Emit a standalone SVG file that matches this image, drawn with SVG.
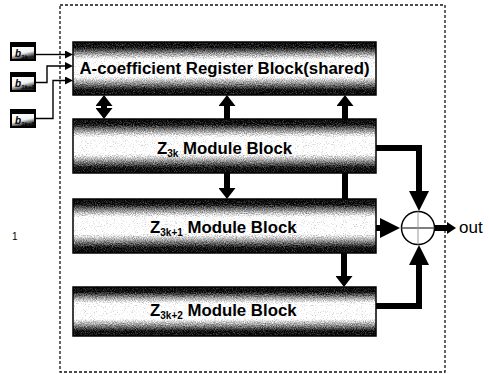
<svg xmlns="http://www.w3.org/2000/svg" width="489" height="374" viewBox="0 0 489 374">
  <style>
    .frame { fill: none; stroke: #111; stroke-width: 1.3; stroke-dasharray: 3 2; }
    .blk { fill: url(#band); filter: url(#grain); }
    .edge { fill: none; stroke: #000; stroke-width: 1.5; }
    .lbl { font-family: "Liberation Sans", Arial, sans-serif; font-weight: bold; fill: #000; }
    .sub { font-size: 10px; fill: #000; }
    .thick { fill: none; stroke: #000; stroke-width: 6; stroke-linejoin: miter; }
    .thin { fill: none; stroke: #000; stroke-width: 1.4; }
    .inbox { fill: #000; }
    .inwin { fill: url(#inband); }
    .bsym { font-family: "Liberation Sans", Arial, sans-serif; font-style: italic; font-weight: bold; font-size: 10px; fill: #000; }
    .plain { font-family: "Liberation Sans", Arial, sans-serif; fill: #000; }
  </style>
  <defs>
    <linearGradient id="band" x1="0" y1="0" x2="0" y2="1">
      <stop offset="0" stop-color="#000"/>
      <stop offset="0.1" stop-color="#050505"/>
      <stop offset="0.22" stop-color="#8c8c8c"/>
      <stop offset="0.34" stop-color="#fdfdfd"/>
      <stop offset="0.64" stop-color="#fdfdfd"/>
      <stop offset="0.77" stop-color="#8c8c8c"/>
      <stop offset="0.9" stop-color="#050505"/>
      <stop offset="1" stop-color="#000"/>
    </linearGradient>
    <linearGradient id="inband" x1="0" y1="0" x2="0.4" y2="1">
      <stop offset="0" stop-color="#fff"/>
      <stop offset="0.6" stop-color="#f2f2f2"/>
      <stop offset="1" stop-color="#222"/>
    </linearGradient>
    <!-- speckled print texture for the block bands -->
    <filter id="grain" x="0" y="0" width="100%" height="100%" color-interpolation-filters="sRGB">
      <feTurbulence type="fractalNoise" baseFrequency="0.9" numOctaves="2" seed="7" result="n"/>
      <feColorMatrix in="n" type="matrix" values="1 0 0 0 0  1 0 0 0 0  1 0 0 0 0  0 0 0 0 1" result="g"/>
      <feComposite in="SourceGraphic" in2="g" operator="arithmetic" k1="0" k2="1" k3="0.8" k4="-0.34" result="mix"/>
      <feComposite in="mix" in2="SourceGraphic" operator="in"/>
    </filter>
    <marker id="head" markerUnits="userSpaceOnUse" markerWidth="11" markerHeight="17" refX="0" refY="8.5" orient="auto-start-reverse">
      <path d="M0,0 L11,8.5 L0,17 Z" fill="#000"/>
    </marker>
    <marker id="bighead" markerUnits="userSpaceOnUse" markerWidth="20" markerHeight="20" refX="0" refY="10" orient="auto">
      <path d="M0,0 L20,10 L0,20 Z" fill="#000"/>
    </marker>
    <marker id="outhead" markerUnits="userSpaceOnUse" markerWidth="9" markerHeight="12" refX="0" refY="6" orient="auto">
      <path d="M0,0 L9,6 L0,12 Z" fill="#000"/>
    </marker>
    <marker id="inhead" markerUnits="userSpaceOnUse" markerWidth="8" markerHeight="8" refX="0" refY="4" orient="auto">
      <path d="M0,0 L8,4 L0,8 Z" fill="#000"/>
    </marker>
  </defs>

  <rect class="frame" x="60" y="5" width="385" height="367"/>

  <!-- connectors (drawn first so the blocks sit on top of pass-through lines) -->
  <g id="connectors">
    <path class="thick" d="M345,199 L345,106" marker-end="url(#head)"/>
    <path class="thick" d="M104,106 L104,108" marker-start="url(#head)" marker-end="url(#head)"/>
    <path class="thick" d="M227,119 L227,106" marker-end="url(#head)"/>
    <path class="thick" d="M227,173 L227,188" marker-end="url(#head)"/>
    <path class="thick" d="M344,253 L344,276" marker-end="url(#head)"/>
    <path class="thick" d="M376,148 L419,148 L419,191" marker-end="url(#bighead)"/>
    <path class="thick" d="M376,228 L380,228" marker-end="url(#bighead)"/>
    <path class="thick" d="M376,306 L419,306 L419,265" marker-end="url(#bighead)"/>
    <path class="thick" d="M435,228 L447,228" marker-end="url(#outhead)"/>
    <path class="thin" d="M36,54.5 L65,54.5" marker-end="url(#inhead)"/>
    <path class="thin" d="M36,82.5 L47,82.5 L47,66 L65,66" marker-end="url(#inhead)"/>
    <path class="thin" d="M36,118.5 L53,118.5 L53,80.5 L65,80.5" marker-end="url(#inhead)"/>
  </g>

  <g id="in-b0">
    <rect class="inbox" x="10" y="42" width="26" height="19"/>
    <rect class="inwin" x="12" y="47" width="22" height="12"/>
    <text class="bsym" x="15" y="57">b<tspan font-size="6" dy="2">3k</tspan></text>
  </g>
  <g id="in-b1">
    <rect class="inbox" x="10" y="72" width="26" height="20"/>
    <rect class="inwin" x="12" y="77" width="22" height="13"/>
    <text class="bsym" x="15" y="87">b<tspan font-size="6" dy="2">3k+1</tspan></text>
  </g>
  <g id="in-b2">
    <rect class="inbox" x="10" y="109" width="26" height="19"/>
    <rect class="inwin" x="12" y="114" width="22" height="12"/>
    <text class="bsym" x="15" y="124">b<tspan font-size="6" dy="2">3k+2</tspan></text>
  </g>

  <g id="register">
    <rect class="blk" x="73" y="42" width="303" height="53"/>
    <rect class="edge" x="73" y="42" width="303" height="53"/>
    <text class="lbl" x="224.5" y="74" font-size="16.8" text-anchor="middle">A-coefficient Register Block(shared)</text>
  </g>

  <g id="z3k">
    <rect class="blk" x="73" y="119" width="303" height="54"/>
    <rect class="edge" x="73" y="119" width="303" height="54"/>
    <text class="lbl" x="157" y="154" font-size="16.8">Z<tspan class="sub" dy="3">3k</tspan><tspan dy="-3"> Module Block</tspan></text>
  </g>

  <g id="z3k1">
    <rect class="blk" x="73" y="199" width="303" height="54"/>
    <rect class="edge" x="73" y="199" width="303" height="54"/>
    <text class="lbl" x="150" y="233" font-size="16.8">Z<tspan class="sub" dy="3">3k+1</tspan><tspan dy="-3"> Module Block</tspan></text>
  </g>

  <g id="z3k2">
    <rect class="blk" x="73" y="287" width="303" height="49"/>
    <rect class="edge" x="73" y="287" width="303" height="49"/>
    <text class="lbl" x="150" y="316" font-size="16.8">Z<tspan class="sub" dy="3">3k+2</tspan><tspan dy="-3"> Module Block</tspan></text>
  </g>

  <g id="adder">
    <circle cx="418" cy="228" r="16.5" fill="#fff" stroke="#000" stroke-width="1.5"/>
    <line x1="401.5" y1="228" x2="434.5" y2="228" stroke="#555" stroke-width="1.5"/>
    <line x1="418" y1="211.5" x2="418" y2="244.5" stroke="#999" stroke-width="1"/>
  </g>

  <g id="out">
    <text class="plain" x="459" y="233" font-size="17">out</text>
  </g>

  <text class="plain" x="12" y="240" font-size="10">1</text>
</svg>
